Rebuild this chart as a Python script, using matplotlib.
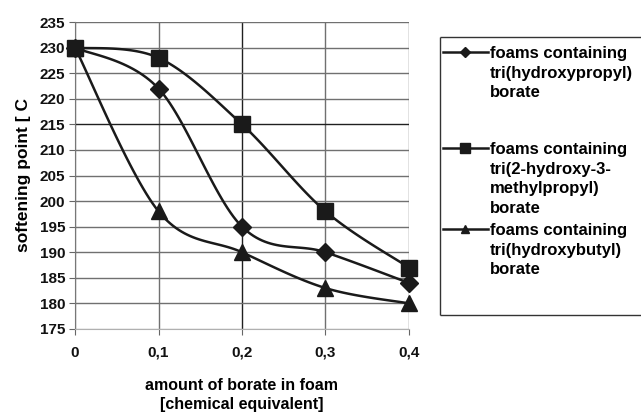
import numpy as np
import matplotlib
matplotlib.use('Agg')
import matplotlib.pyplot as plt
from matplotlib.lines import Line2D

plt.rcParams['font.family'] = ['Liberation Sans', 'DejaVu Sans']

# data
borate_amount = [0, 0.1, 0.2, 0.3, 0.4]
x_labels = ['0', '0,1', '0,2', '0,3', '0,4']
propyl = [230, 222, 195, 190, 184]
methylpropyl = [230, 228, 215, 198, 187]
butyl = [230, 198, 190, 183, 180]

series = [
    (propyl, 'D', 9, 'foams containing\ntri(hydroxypropyl)\nborate'),
    (methylpropyl, 's', 12, 'foams containing\ntri(2-hydroxy-3-\nmethylpropyl)\nborate'),
    (butyl, '^', 11, 'foams containing\ntri(hydroxybutyl)\nborate'),
]
# legend entries: pixel row of the first text line, from the top
legend_rows = [52, 148, 229]

W, H = 641, 416


def smooth(x, y, n=30):
    # excel-style smoothed line (catmull-rom through the points)
    x = np.asarray(x, float)
    y = np.asarray(y, float)
    px = np.concatenate([[x[0]], x, [x[-1]]])
    py = np.concatenate([[y[0]], y, [y[-1]]])
    xs, ys = [], []
    t = np.linspace(0, 1, n)
    for i in range(1, len(px) - 2):
        p0, p1, p2, p3 = [np.array([px[j], py[j]]) for j in (i - 1, i, i + 1, i + 2)]
        c1 = p1 + (p2 - p0) / 6
        c2 = p2 - (p3 - p1) / 6
        pts = ((1 - t) ** 3)[:, None] * p1 + (3 * (1 - t) ** 2 * t)[:, None] * c1 \
            + (3 * (1 - t) * t ** 2)[:, None] * c2 + (t ** 3)[:, None] * p2
        xs.extend(pts[:, 0])
        ys.extend(pts[:, 1])
    return xs, ys


fig = plt.figure(figsize=(W / 100, H / 100), dpi=100)
ax = fig.add_axes([75 / W, 1 - 329 / H, (409 - 75) / W, (329 - 22) / H])

for vals, mk, ms, lab in series:
    sx, sy = smooth(borate_amount, vals)
    ax.plot(sx, sy, color='#1a1a1a', linewidth=1.8, zorder=3)
    ax.plot(borate_amount, vals, linestyle='none', marker=mk, markersize=ms,
            color='#1a1a1a', zorder=4, clip_on=False)

ax.set_xlim(0, 0.4)
ax.set_ylim(175, 235)
ax.set_xticks(borate_amount)
ax.set_xticklabels(x_labels)
ax.set_yticks(np.arange(175, 236, 5))
ax.grid(True, color='#707070', linewidth=1.0)
# scanned original: a couple of grid lines came out darker
ax.get_xgridlines()[2].set_color('#202020')
ax.get_ygridlines()[8].set_color('#202020')
ax.get_ygridlines()[0].set_color('#b0b0b0')
for s in ['top', 'right']:
    ax.spines[s].set_visible(False)
ax.spines['left'].set_color('#777777')
ax.spines['bottom'].set_color('#b0b0b0')
ax.spines['bottom'].set_zorder(2.5)
ax.tick_params(axis='both', colors='#666666', labelcolor='#111111', length=4,
               labelsize=11)
for lbl in ax.get_xticklabels() + ax.get_yticklabels():
    lbl.set_fontweight('bold')
ax.tick_params(axis='x', pad=8)
ax.tick_params(axis='y', pad=3)

ax.set_ylabel('softening point [ C', fontsize=12.5, fontweight='bold', labelpad=6)
ax.set_xlabel('amount of borate in foam\n[chemical equivalent]', fontsize=11.5,
              fontweight='bold', labelpad=13, linespacing=1.35)

# legend drawn by hand so the symbol sits on the first text line;
# its box runs off the right edge of the picture
box_l, box_t, box_b = 440 / W, 1 - 37 / H, 1 - 315 / H
for xs, ys in [([box_l, 1.0], [box_t, box_t]), ([box_l, 1.0], [box_b, box_b]),
               ([box_l, box_l], [box_b, box_t])]:
    fig.add_artist(Line2D(xs, ys, transform=fig.transFigure, color='#333333',
                          linewidth=1.0, solid_capstyle='butt'))
for (vals, mk, ms, lab), row in zip(series, legend_rows):
    yf = 1 - row / H
    fig.add_artist(Line2D([443 / W, 488 / W], [yf, yf], transform=fig.transFigure,
                          color='#1a1a1a', linewidth=1.8))
    fig.add_artist(Line2D([465 / W], [yf], transform=fig.transFigure, marker=mk,
                          markersize=ms * 0.55, color='#1a1a1a'))
    fig.text(490 / W, 1 - (row - 6) / H, lab, ha='left', va='top', fontsize=12,
             fontweight='bold', linespacing=1.38, transform=fig.transFigure)

fig.savefig('out.png', dpi=100)
